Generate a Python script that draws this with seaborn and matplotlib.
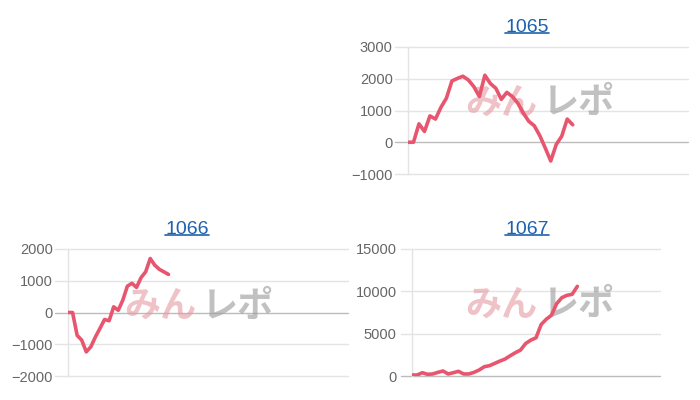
import matplotlib
matplotlib.use('Agg')
import matplotlib.pyplot as plt
import matplotlib.transforms as mtransforms
from matplotlib.lines import Line2D
import pandas as pd
import seaborn as sns

# data (cumulative balance per game)
titles = ['1065', '1066', '1067']
vals_1065 = [0, 0, 580, 340, 830, 730, 1100, 1390, 1930, 2010, 2080, 1960, 1750, 1440, 2110,
             1850, 1700, 1350, 1570, 1440, 1230, 920, 660, 520, 210, -180, -590, -70, 190, 730, 550]
vals_1066 = [0, 0, -720, -870, -1240, -1080, -770, -500, -220, -260, 180, 70, 390, 830, 920,
             790, 1100, 1280, 1700, 1490, 1360, 1280, 1200]
vals_1067 = [120, 120, 390, 200, 240, 430, 590, 240, 390, 550, 240, 240, 430, 710, 1100, 1220,
             1490, 1760, 2000, 2390, 2750, 3060, 3840, 4240, 4510, 6080, 6710, 7180, 8550, 9250,
             9530, 9650, 10590]
yticks_1065 = [-1000, 0, 1000, 2000, 3000]
yticks_1066 = [-2000, -1000, 0, 1000, 2000]
yticks_1067 = [0, 5000, 10000, 15000]

sns.set_theme(style='white')
plt.rcParams['font.family'] = ['Liberation Sans', 'DejaVu Sans']

LINE = '#e8556f'
GRID = '#e4e4e4'
ZERO = '#bcbcbc'
LINK = '#1d62ad'

fig = plt.figure(figsize=(7, 4), dpi=100)

# panel boxes in pixels: left, top, right, bottom
boxes = [(408, 47, 688, 174), (68, 249, 348, 376), (412, 249, 660, 376)]
title_x = [527, 187, 527]
xlims = [51, 61.3, 48]
data = [vals_1065, vals_1066, vals_1067]
ticks = [yticks_1065, yticks_1066, yticks_1067]
wm_pos = [(0.49, 0.56), (0.486, 0.55), (0.536, 0.56)]

title_texts = []
for box, tx, xl, vals, yt, title, wp in zip(boxes, title_x, xlims, data, ticks, titles, wm_pos):
    l, t, r, b = box
    ax = fig.add_axes([l / 700, 1 - b / 400, (r - l) / 700, (b - t) / 400])
    df = pd.DataFrame({'x': range(len(vals)), 'y': vals})
    sns.lineplot(data=df, x='x', y='y', ax=ax, color=LINE, linewidth=2.6, zorder=5)
    ax.set_xlim(0, xl)
    ax.set_ylim(yt[0], yt[-1])
    ax.set_yticks(yt)
    ax.set_xticks([])
    ax.set_xlabel('')
    ax.set_ylabel('')
    for v in yt:
        c = ZERO if v == 0 else GRID
        ax.axhline(v, xmin=-0.045, xmax=1, color=c, lw=1, clip_on=False, zorder=1)
    for s in ['top', 'right', 'bottom']:
        ax.spines[s].set_visible(False)
    ax.spines['left'].set_color(GRID)
    ax.spines['left'].set_linewidth(1)
    ax.tick_params(axis='y', length=0, pad=11, labelsize=10.5, labelcolor='#666666')

    # title sits centred on the whole panel, not on the axes
    tt = fig.text(tx / 700, 1 - (t - 15.5) / 400, title, ha='center', va='baseline',
                  fontsize=14, color=LINK)
    title_texts.append(tt)

    # watermark
    tr1 = mtransforms.offset_copy(ax.transAxes, fig=fig, x=-44, y=0, units='dots')
    tr2 = mtransforms.offset_copy(ax.transAxes, fig=fig, x=34, y=0, units='dots')
    ax.text(wp[0], wp[1], 'みん', transform=tr1, ha='center', va='center', fontsize=26,
            fontweight='bold', color='#e59aa3', alpha=0.6, family=['Noto Sans CJK JP'], zorder=3)
    ax.text(wp[0], wp[1], 'レポ', transform=tr2, ha='center', va='center', fontsize=26,
            fontweight='bold', color='#a0a0a0', alpha=0.65, family=['Noto Sans CJK JP'], zorder=3)

# underline the titles like links
fig.canvas.draw()
renderer = fig.canvas.get_renderer()
for tt in title_texts:
    bb = tt.get_window_extent(renderer)
    y = bb.y0 + 2.5
    fig.add_artist(Line2D([bb.x0 / 700, bb.x1 / 700], [y / 400, y / 400],
                          color=LINK, lw=1.2, transform=fig.transFigure))

fig.savefig('out.png', dpi=100)
